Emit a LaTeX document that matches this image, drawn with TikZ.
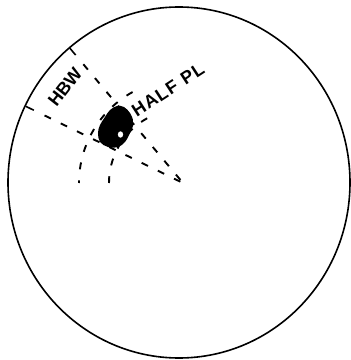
\documentclass[tikz,border=0pt]{standalone}
\usepackage{fontspec}
\usetikzlibrary{calc}
\newfontfamily\lettering{Liberation Sans}
\begin{document}
\begin{tikzpicture}[x=1pt,y=1pt,
  outline/.style={line width=1.6pt},
  dashline/.style={line width=1.9pt,dash pattern=on 7pt off 11pt},
  tickmark/.style={line width=1.6pt},
  letters/.style={font=\lettering\bfseries\fontsize{18}{18}\selectfont,inner sep=0pt}]
\useasboundingbox (0,0) rectangle (351,360);
\coordinate (C) at (183,177);
% outer circle
\draw[outline] (179,177.5) ellipse [x radius=171, y radius=175.5];
% tick marks on circle
\draw[tickmark] ($(C)+(130:176)$) -- ($(C)+(130:167)$);
\draw[tickmark] ($(C)+(154:175)$) -- ($(C)+(154:166)$);
% radial dashed lines
\coordinate (L1) at ($(C)+(130:155)$);
\coordinate (L2) at ($(C)+(154:154)$);
\draw[dashline] (L1) -- (C);
\draw[dashline] (L2) -- (C);
% range arcs
\draw[dashline] ($(C)+(119:104)$) arc[start angle=119, end angle=180, radius=104];
\draw[dashline] ($(C)+(119:74)$) arc[start angle=119, end angle=180, radius=74];
% target blob
\fill[black] plot[smooth cycle,tension=0.6] coordinates {
 (117,254) (124,253) (130,247) (133,240) (133,234) (130,227) (125,218)
 (118,213) (108,213) (100,218) (98,227) (100,235) (105,243) (110,250)};
\fill[white] (120.5,225.5) ellipse [x radius=2.6, y radius=3.2];
% labels
\node[letters,rotate=52] (hbw) at (65,273) {HBW};
\node[letters,rotate=33] (halfpl) at (168,270) {H\kern1pt A\kern1pt L\kern1pt F\kern7pt P\kern1pt L};
\end{tikzpicture}
\end{document}
